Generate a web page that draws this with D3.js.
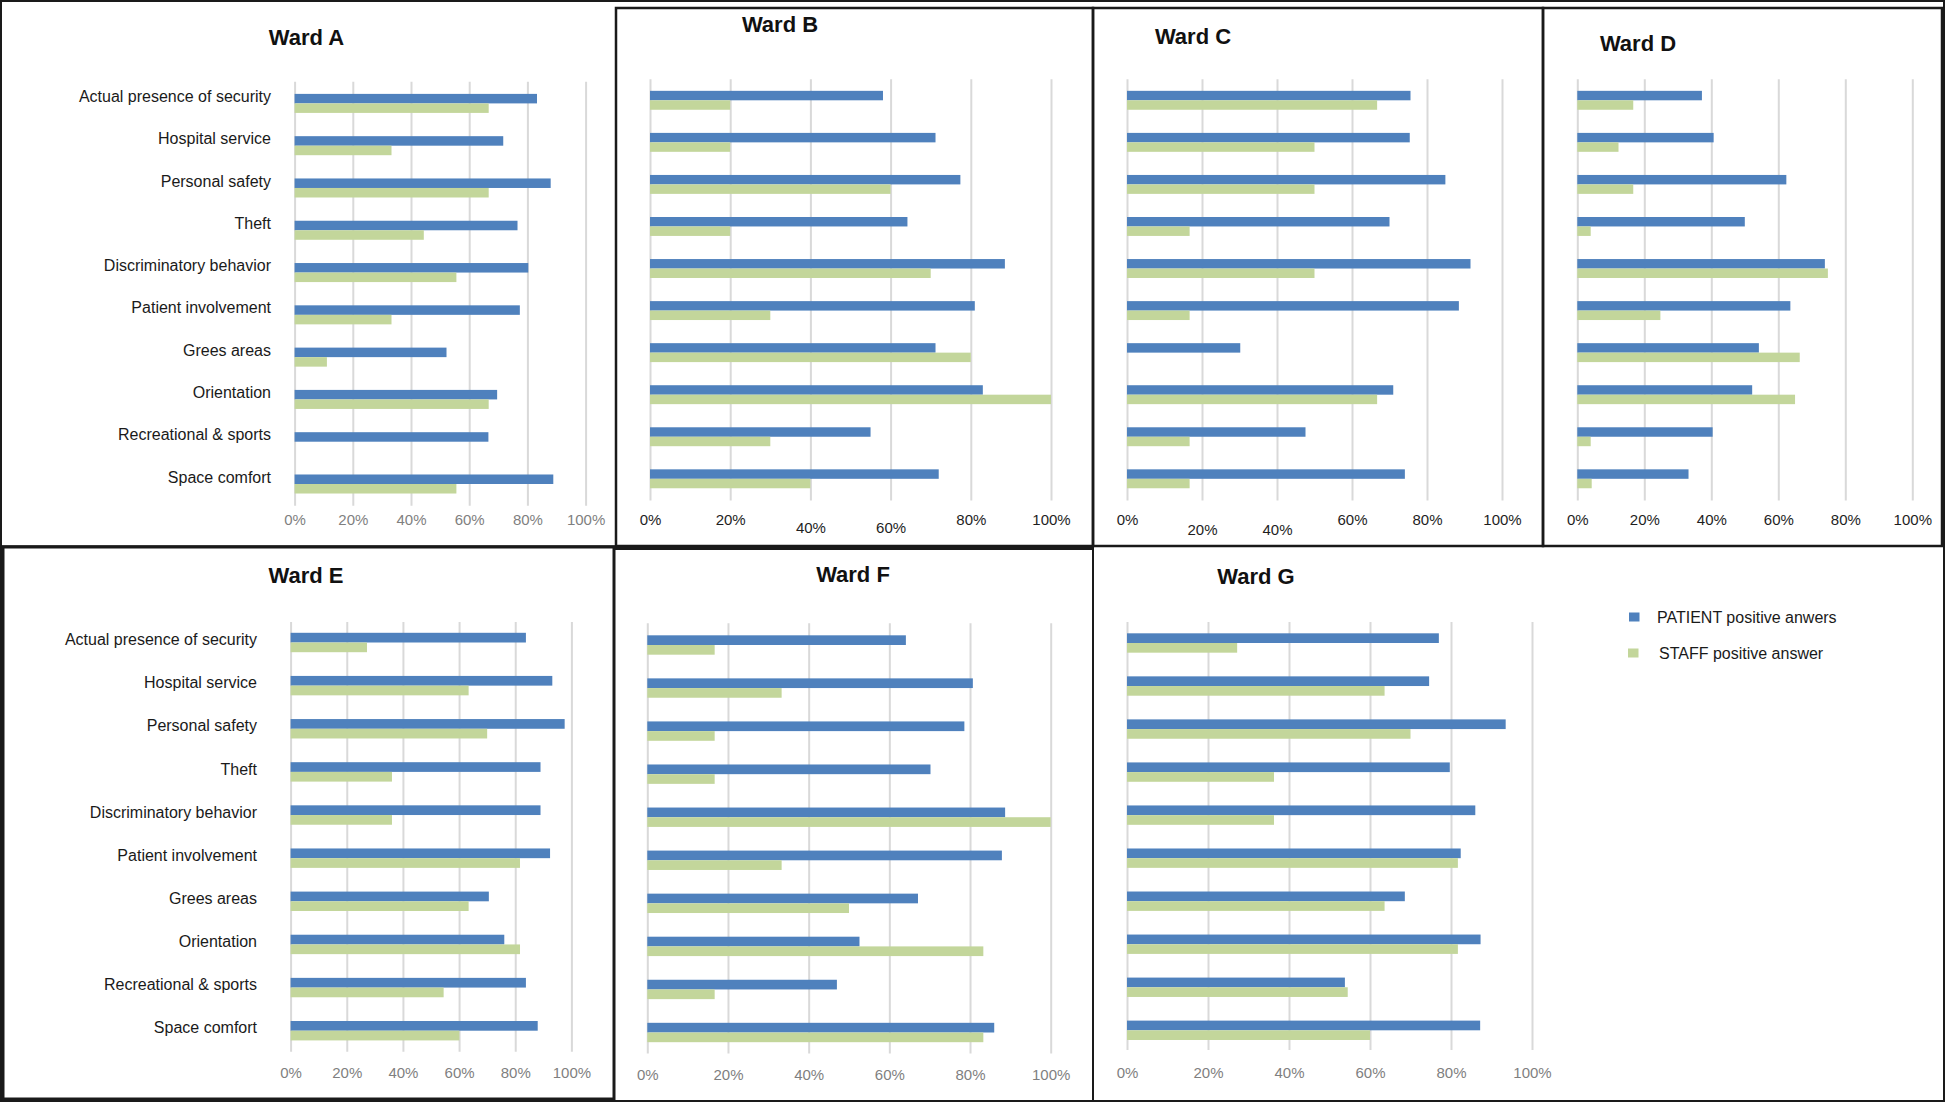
<!DOCTYPE html>
<html>
<head>
<meta charset="utf-8">
<script src="https://cdn.jsdelivr.net/npm/d3@7"></script>
<style>
  body { margin: 0; background: #fff; }
  svg { display: block; font-family: "Liberation Sans", Arial, sans-serif; }
</style>
</head>
<body>
<svg width="1946" height="1103"></svg>
<script>
// Categories (top to bottom) and the two series.
var categories = ["Actual presence of security", "Hospital service", "Personal safety", "Theft",
  "Discriminatory behavior", "Patient involvement", "Grees areas", "Orientation",
  "Recreational & sports", "Space comfort"];
var seriesNames = ["PATIENT positive anwers", "STAFF positive answer"];
var wardNames = ["Ward A", "Ward B", "Ward C", "Ward D", "Ward E", "Ward F", "Ward G"];
var tickValues = [0, 20, 40, 60, 80, 100];

// Percent of positive answers.
var patientA = [83.3, 71.7, 88.0, 76.6, 80.3, 77.4, 52.2, 69.6, 66.6, 88.9];
var staffA   = [66.7, 33.3, 66.7, 44.4, 55.6, 33.3, 11.1, 66.7, 0, 55.6];
var patientB = [58.1, 71.2, 77.4, 64.2, 88.5, 81.0, 71.2, 83.0, 55.0, 72.0];
var staffB   = [20, 20, 60, 20, 70, 30, 80, 100, 30, 40];
var patientC = [75.6, 75.4, 84.9, 70.0, 91.6, 88.5, 30.2, 71.0, 47.6, 74.1];
var staffC   = [66.7, 50, 50, 16.7, 50, 16.7, 0, 66.7, 16.7, 16.7];
var patientD = [37.2, 40.7, 62.4, 50.0, 73.9, 63.6, 54.2, 52.2, 40.4, 33.2];
var staffD   = [16.7, 12.3, 16.7, 4.0, 74.8, 24.8, 66.4, 65.0, 4.0, 4.3];
var patientE = [83.8, 93.2, 97.6, 89.0, 89.0, 92.4, 70.6, 76.1, 83.8, 88.0];
var staffE   = [27.2, 63.4, 70.0, 36.1, 36.1, 81.7, 63.4, 81.7, 54.5, 60.1];
var patientF = [64.1, 80.7, 78.6, 70.2, 88.7, 87.9, 67.1, 52.6, 47.0, 86.0];
var staffF   = [16.7, 33.3, 16.7, 16.7, 100, 33.3, 50, 83.3, 16.7, 83.3];
var patientG = [77.0, 74.6, 93.5, 79.7, 86.0, 82.4, 68.6, 87.3, 53.8, 87.2];
var staffG   = [27.2, 63.6, 70.0, 36.3, 36.3, 81.7, 63.6, 81.7, 54.5, 60.0];

var colors = ["#4F81BD", "#C3D69B"];

// Panel layout (positions only).
var panels = [
  {name: wardNames[0], p: patientA, s: staffA, x0: 294.6, x1: 585.6, top: 81.7, bot: 505.7, c0: 103.4, c1: 484,
   tickY: 519.6, tickColor: "#7f7f7f", labelX: 271, labelDy: -7, titleX: 306.5, titleY: 37.4},
  {name: wardNames[1], p: patientB, s: staffB, x0: 650, x1: 1051, top: 79.2, bot: 500.5, c0: 100.3, c1: 478.8,
   tickY: 519.6, tickColor: "#1e1e1e", stagger: [0, 0, 7.7, 7.7, 0, 0], titleX: 780, titleY: 24.3},
  {name: wardNames[2], p: patientC, s: staffC, x0: 1127, x1: 1502, top: 79.2, bot: 500.5, c0: 100.3, c1: 478.8,
   tickY: 519.6, tickColor: "#1e1e1e", stagger: [0, 9.8, 9.8, 0, 0, 0], titleX: 1193, titleY: 36},
  {name: wardNames[3], p: patientD, s: staffD, x0: 1577.3, x1: 1912.3, top: 79.2, bot: 500.5, c0: 100.3, c1: 478.8,
   tickY: 519.6, tickColor: "#1e1e1e", titleX: 1638, titleY: 43},
  {name: wardNames[4], p: patientE, s: staffE, x0: 290.6, x1: 571.4, top: 621.9, bot: 1051.7, c0: 642.5, c1: 1030.7,
   tickY: 1073.2, tickColor: "#7f7f7f", labelX: 257, labelDy: -3, titleX: 306, titleY: 575},
  {name: wardNames[5], p: patientF, s: staffF, x0: 647.3, x1: 1050.7, top: 623.3, bot: 1053.5, c0: 645, c1: 1032.5,
   tickY: 1075, tickColor: "#7f7f7f", titleX: 853, titleY: 574},
  {name: wardNames[6], p: patientG, s: staffG, x0: 1127, x1: 1532, top: 621.9, bot: 1049.9, c0: 643, c1: 1030.3,
   tickY: 1073, tickColor: "#7f7f7f", titleX: 1256, titleY: 576}
];

var svg = d3.select("svg");

// Frames around the panels.
var frames = svg.append("g").attr("fill", "none").attr("stroke", "#1a1a1a");
frames.append("rect").attr("x", 1).attr("y", 1).attr("width", 1943).attr("height", 1100).attr("stroke-width", 2);
frames.append("rect").attr("x", 616).attr("y", 8).attr("width", 477).attr("height", 538).attr("stroke-width", 2.5);
frames.append("rect").attr("x", 1093).attr("y", 8).attr("width", 450).attr("height", 538).attr("stroke-width", 2.5);
frames.append("rect").attr("x", 1543).attr("y", 8).attr("width", 399).attr("height", 538).attr("stroke-width", 2.5);
frames.append("line").attr("x1", 1).attr("x2", 1944).attr("y1", 546).attr("y2", 546).attr("stroke-width", 1.5);
frames.append("rect").attr("x", 3).attr("y", 547).attr("width", 611).attr("height", 552).attr("stroke-width", 3);
frames.append("line").attr("x1", 614).attr("x2", 1093).attr("y1", 548.5).attr("y2", 548.5).attr("stroke-width", 3);
frames.append("line").attr("x1", 1093).attr("x2", 1093).attr("y1", 546).attr("y2", 1101).attr("stroke-width", 2);

panels.forEach(function(d) {
  var g = svg.append("g");

  var x = d3.scaleLinear().domain([0, 100]).range([d.x0, d.x1]);
  var y = d3.scalePoint().domain(categories).range([d.c0, d.c1]);
  var h = y.step() * 0.225;

  // Gridlines and tick labels from one axis.
  var axis = g.append("g")
      .attr("transform", "translate(0," + d.bot + ")")
      .call(d3.axisBottom(x).tickValues(tickValues)
        .tickFormat(function(v) { return v + "%"; })
        .tickSize(-(d.bot - d.top)));
  axis.select(".domain").remove();
  axis.selectAll(".tick line").attr("stroke", "#d9d9d9").attr("stroke-width", 2);
  axis.selectAll(".tick text")
      .attr("y", function(v, i) { return d.tickY - d.bot + (d.stagger ? d.stagger[i] : 0); })
      .attr("dy", "0.35em")
      .attr("fill", d.tickColor)
      .attr("font-size", 15)
      .attr("font-family", "Liberation Sans, Arial, sans-serif");

  // Patient bars sit above the category line, staff bars below.
  g.append("g").selectAll("rect.patient")
    .data(d.p)
    .enter().append("rect")
      .attr("class", "patient")
      .attr("x", x(0))
      .attr("y", function(v, i) { return y(categories[i]) - h; })
      .attr("width", function(v) { return x(v) - x(0); })
      .attr("height", h)
      .attr("fill", colors[0]);

  g.append("g").selectAll("rect.staff")
    .data(d.s)
    .enter().append("rect")
      .attr("class", "staff")
      .attr("x", x(0))
      .attr("y", function(v, i) { return y(categories[i]); })
      .attr("width", function(v) { return x(v) - x(0); })
      .attr("height", h)
      .attr("fill", colors[1]);

  if (d.labelX) {
    g.append("g").selectAll("text")
      .data(categories)
      .enter().append("text")
        .attr("x", d.labelX)
        .attr("y", function(c) { return y(c) + d.labelDy; })
        .attr("dy", "0.35em")
        .attr("text-anchor", "end")
        .attr("font-size", 16)
        .attr("fill", "#1a1a1a")
        .text(function(c) { return c; });
  }

  g.append("text")
    .attr("x", d.titleX)
    .attr("y", d.titleY)
    .attr("dy", "0.35em")
    .attr("text-anchor", "middle")
    .attr("font-size", 22)
    .attr("font-weight", "bold")
    .attr("fill", "#111")
    .text(d.name);
});

// Legend
var legend = svg.append("g");
var legendY = [617, 653];
var legendSq = [1629, 1628];
var legendTx = [1657, 1659];
seriesNames.forEach(function(name, i) {
  legend.append("rect")
    .attr("x", legendSq[i]).attr("y", legendY[i] - 4.5)
    .attr("width", 10.5).attr("height", 9)
    .attr("fill", colors[i]);
  legend.append("text")
    .attr("x", legendTx[i]).attr("y", legendY[i])
    .attr("dy", "0.35em")
    .attr("font-size", 16)
    .attr("fill", "#1a1a1a")
    .text(name);
});
</script>
</body>
</html>
